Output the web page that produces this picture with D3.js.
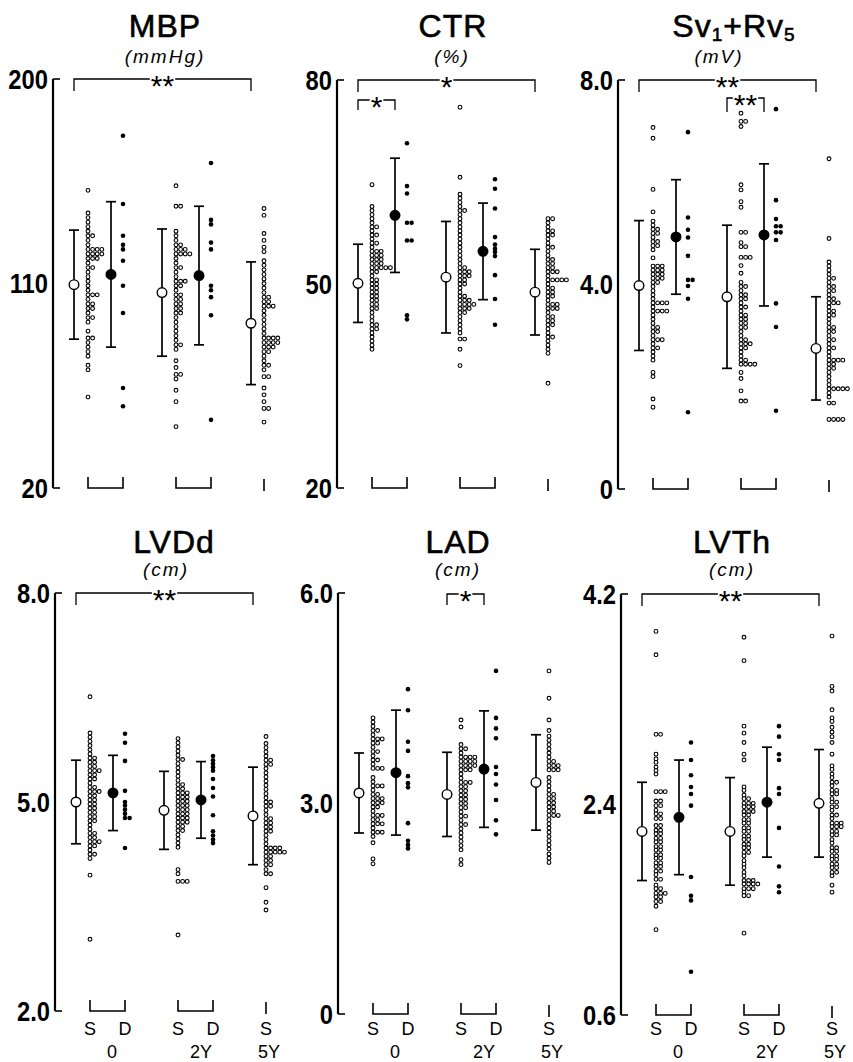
<!DOCTYPE html>
<html>
<head>
<meta charset="utf-8">
<script src="https://cdn.jsdelivr.net/npm/d3@7/dist/d3.min.js"></script>
<style>
  body { margin: 0; background: #fff; }
  svg text { font-family: "Liberation Sans", Arial, sans-serif; fill: #000; }
</style>
</head>
<body>
<svg id="chart" width="853" height="1062"></svg>
<script>
// ---- data: individual values per group (0 S, 0 D, 2Y S, 2Y D, 5Y S) ----
// MBP (mmHg)
var mbp0S = [151, 141, 139, 137, 135, 133, 131, 129, 127, 125, 123, 121, 119, 117, 115, 113, 111, 109, 107, 105, 103, 101, 99, 97, 95, 93,
  89, 86, 84, 82, 80, 78, 74, 72, 60,
  131, 125, 125, 125, 123, 123, 123, 121, 121, 117, 105, 105, 101, 99, 95, 86];
var mbp0D = [175, 145, 131, 127, 125, 120, 109, 97, 64, 56];
var mbp2S = [153, 144, 144, 133, 131, 129, 127, 125, 123, 121, 119, 117, 115, 113, 111, 109, 107, 105, 103, 101, 99, 97, 95, 93, 91, 89, 87, 85, 83, 81,
  76, 73, 70, 70, 68, 63, 58, 47,
  127, 125, 125, 123, 123, 123, 117, 111, 111, 109, 105, 103, 101, 99, 97, 83];
var mbp2D = [163, 138, 136, 128, 125, 109, 107, 104, 96, 50];
var mbp5S = [143, 140, 132, 129, 126, 124, 120, 118, 116, 114, 112, 110, 108, 106, 104, 102, 100, 98, 96, 94, 92, 90, 88, 86, 84, 82, 80, 78, 76, 74, 72,
  69, 69, 64, 61, 58, 55, 55, 49,
  104, 102, 100, 100, 86, 86, 86, 84, 84, 84, 82, 82, 80, 74];
var mbpMean = [109.5, 114, 106, 113.5, 92.5];
var mbpSD = [24, 32, 28, 30.5, 27];
var mbpTicks = [20, 110, 200];
var mbpTickLabels = ["20", "110", "200"];

// CTR (%)
var ctr0S = [64.6, 61.4, 60.8, 60.2, 59.6, 59.0, 58.4, 57.8, 57.2, 56.6, 56.0, 55.4, 54.8, 54.2, 53.6, 53.0, 52.4, 51.8, 51.2, 50.6, 50.0,
  49.4, 48.8, 48.2, 47.6, 47.0, 46.4, 45.8, 45.2, 44.6, 44.0, 43.4, 42.8, 42.2, 41.6, 41.0, 40.4,
  58.4, 57.2, 56.0, 54.8, 54.8, 54.2, 54.2, 53.6, 53.6, 53.0, 53.0, 52.4, 52.4, 52.4, 52.4, 51.8,
  50.6, 50.0, 49.4, 48.8, 48.2, 47.6, 47.0, 46.4, 44.0, 43.4];
var ctr0D = [70.7, 64.4, 63.3, 59.0, 59.0, 56.4, 56.4, 45.4, 44.8];
var ctr2S = [76.0, 65.7, 63.2, 62.6, 62.0, 61.4, 60.8, 60.2, 59.6, 59.0, 58.4, 57.8, 57.2, 56.6, 56.0, 55.4, 54.8, 54.2, 53.6, 53.0, 52.4,
  51.8, 51.2, 50.6, 50.0, 49.4, 48.8, 48.2, 47.6, 47.0, 46.4, 45.8, 45.2, 44.6, 44.0, 43.4, 42.8, 41.9, 41.9, 40.4, 38.0,
  60.8, 52.4, 51.8, 51.8, 51.2, 51.2, 50.6, 50.0, 48.2, 47.6, 47.6, 47.0, 47.0, 47.0, 46.4, 46.4, 45.8];
var ctr2D = [65.4, 64.0, 61.1, 56.9, 55.8, 55.2, 54.7, 54.1, 51.3, 47.8, 44.0];
var ctr5S = [59.6, 59.0, 58.4, 57.8, 57.2, 56.6, 56.0, 55.4, 54.8, 54.2, 53.6, 53.0, 52.4, 51.8, 51.2, 50.6, 50.0, 49.4, 48.8, 48.2,
  47.6, 47.0, 46.4, 45.8, 45.2, 44.6, 44.0, 43.4, 42.8, 42.2, 41.6, 41.0, 40.4, 39.8, 35.4,
  59.6, 57.8, 57.2, 55.4, 53.6, 53.0, 52.4, 51.8, 51.8, 50.6, 50.6, 50.6, 50.6, 49.4, 48.8, 48.2, 47.0, 47.0, 46.4, 46.4,
  45.2, 44.6, 44.0, 42.2];
var ctrMean = [50.1, 60.1, 51.0, 54.8, 48.8];
var ctrSD = [5.75, 8.4, 8.2, 7.1, 6.3];
var ctrTicks = [20, 50, 80];
var ctrTickLabels = ["20", "50", "80"];

// Sv1+Rv5 (mV)
var sv0S = [7.07, 6.86, 5.86, 5.42, 5.24, 5.16, 5.08, 5.00, 4.92, 4.84, 4.76, 4.68, 4.52,
  4.36, 4.28, 4.20, 4.12, 4.04, 3.96, 3.88, 3.80, 3.72, 3.64, 3.56, 3.48, 3.40, 3.32, 3.24, 3.16, 3.08, 3.00,
  2.92, 2.84, 2.76, 2.68, 2.60, 2.52, 2.28, 2.20, 1.76, 1.60,
  5.08, 5.00, 4.84, 4.76, 4.36, 4.36, 4.28, 4.28, 4.20, 4.20, 4.12, 4.12, 4.04, 3.64, 3.64, 3.64,
  3.48, 3.48, 3.48, 3.16, 3.08, 2.92, 2.92, 2.76];
var sv0D = [6.98, 5.31, 5.07, 4.92, 4.56, 4.09, 4.09, 3.97, 3.72, 1.50];
var sv2S = [7.35, 7.19, 7.19, 7.09, 5.95, 5.85, 5.62, 5.51, 5.02, 5.02, 4.82, 4.74, 4.74, 4.53, 4.53, 4.53, 4.37, 4.22,
  4.04, 3.96, 3.88, 3.80, 3.72, 3.64, 3.56, 3.48, 3.40, 3.32, 3.24, 3.16, 3.08, 3.00, 2.92, 2.84, 2.76, 2.68, 2.60, 2.52, 2.44,
  2.28, 2.16, 1.92, 1.72, 1.72,
  3.96, 3.80, 3.72, 3.56, 3.40, 3.32, 3.24, 3.16, 2.92, 2.84, 2.84, 2.76, 2.52, 2.44, 2.44, 2.44];
var sv2D = [7.43, 5.65, 5.28, 5.14, 5.14, 5.02, 5.02, 4.87, 3.63, 3.17, 1.53];
var sv5S = [6.46, 4.90, 4.44, 4.36, 4.28, 4.20, 4.12, 4.04, 3.96, 3.88, 3.80, 3.72, 3.64, 3.56, 3.48, 3.40, 3.32, 3.24,
  3.16, 3.08, 3.00, 2.92, 2.84, 2.76, 2.68, 2.60, 2.52, 2.44, 2.36, 2.28, 2.20, 2.12, 2.04, 1.96, 1.88, 1.80,
  1.68, 1.68, 1.36, 1.36, 1.36, 1.36,
  4.12, 3.96, 3.88, 3.72, 3.64, 3.64, 3.48, 3.40, 3.16, 3.08, 2.92, 2.76, 2.52, 2.52, 2.52, 2.44, 2.36,
  1.96, 1.96, 1.96, 1.96];
var svMean = [3.98, 4.93, 3.76, 4.97, 2.75];
var svSD = [1.27, 1.12, 1.4, 1.39, 1.01];
var svTicks = [0, 4, 8];
var svTickLabels = ["0", "4.0", "8.0"];

// LVDd (cm)
var lvdd0S = [6.51, 5.99, 5.93, 5.87, 5.81, 5.75, 5.69, 5.63, 5.57, 5.51, 5.45, 5.39, 5.33, 5.27, 5.21, 5.15, 5.09, 5.03,
  4.97, 4.91, 4.85, 4.79, 4.73, 4.67, 4.61, 4.55, 4.49, 4.43, 4.37, 4.31, 4.25, 4.19, 3.95, 3.03,
  5.63, 5.57, 5.51, 5.45, 5.45, 5.39, 5.33, 5.21, 5.15, 5.15, 5.09, 5.03, 4.97, 4.91, 4.85, 4.79, 4.73,
  4.55, 4.49, 4.43, 4.43, 4.37, 4.25];
var lvdd0D = [5.98, 5.85, 5.59, 5.16, 5.00, 4.95, 4.89, 4.83, 4.77, 4.77, 4.34];
var lvdd2S = [5.91, 5.85, 5.79, 5.73, 5.67, 5.61, 5.55, 5.49, 5.43, 5.37, 5.31, 5.25, 5.19, 5.13, 5.07, 5.01,
  4.95, 4.89, 4.83, 4.77, 4.71, 4.65, 4.59, 4.53, 4.47, 4.41, 4.35, 4.03, 3.97, 3.86, 3.86, 3.86, 3.09,
  5.61, 5.25, 5.19, 5.13, 5.13, 5.07, 5.07, 5.01, 5.01, 4.95, 4.95, 4.89, 4.89, 4.83, 4.83, 4.77, 4.77,
  4.71, 4.71, 4.65, 4.59];
var lvdd2D = [5.66, 5.60, 5.55, 5.50, 5.45, 5.33, 5.20, 5.08, 4.81, 4.58, 4.52, 4.46, 4.41];
var lvdd5S = [5.94, 5.84, 5.78, 5.72, 5.66, 5.60, 5.54, 5.48, 5.42, 5.36, 5.30, 5.24, 5.18, 5.12, 5.06, 5.00,
  4.94, 4.88, 4.82, 4.76, 4.70, 4.64, 4.58, 4.52, 4.46, 4.40, 4.34, 4.28, 4.22, 4.16, 4.10,
  4.03, 3.97, 3.97, 3.77, 3.56, 3.45,
  5.60, 5.54, 5.00, 4.94, 4.76, 4.70, 4.64, 4.58, 4.34, 4.34, 4.34, 4.28, 4.28, 4.28, 4.28, 4.22, 4.16, 4.10];
var lvddMean = [5.0, 5.13, 4.88, 5.03, 4.80];
var lvddSD = [0.6, 0.54, 0.56, 0.55, 0.70];
var lvddTicks = [2, 5, 8];
var lvddTickLabels = ["2.0", "5.0", "8.0"];

// LAD (cm)
var lad0S = [4.22, 4.16, 4.10, 4.04, 3.98, 3.92, 3.86, 3.80, 3.74, 3.68, 3.62, 3.56, 3.50,
  3.37, 3.31, 3.25, 3.19, 3.13, 3.07, 3.01, 2.95, 2.89, 2.83, 2.77, 2.71, 2.65, 2.59, 2.53, 2.44, 2.21, 2.14,
  4.04, 3.92, 3.92, 3.86, 3.74, 3.62, 3.50, 3.50, 3.25, 3.25, 3.13, 3.07, 3.07, 3.01, 3.01, 2.95,
  2.83, 2.83, 2.77, 2.71, 2.71, 2.59, 2.59];
var lad0D = [4.63, 4.33, 3.88, 3.75, 3.39, 3.29, 3.23, 2.72, 2.47, 2.41, 2.36];
var lad2S = [4.19, 4.09, 3.84, 3.78, 3.72, 3.66, 3.60, 3.54, 3.48, 3.42, 3.36, 3.30, 3.24, 3.18, 3.12, 3.06, 3.00,
  2.94, 2.88, 2.82, 2.76, 2.70, 2.64, 2.58, 2.52, 2.46, 2.40, 2.34, 2.20, 2.13,
  3.78, 3.66, 3.66, 3.66, 3.60, 3.60, 3.60, 3.54, 3.54, 3.54, 3.48, 3.48, 3.30, 3.30,
  3.24, 3.18, 3.12, 3.06, 3.00, 2.94, 2.82, 2.70];
var lad2D = [4.89, 4.22, 4.07, 3.93, 3.52, 3.42, 3.27, 3.05, 2.76, 2.56];
var lad5S = [4.89, 4.50, 4.19, 4.04, 3.96, 3.90, 3.84, 3.78, 3.72, 3.66, 3.60, 3.54, 3.48,
  3.37, 3.31, 3.25, 3.19, 3.13, 3.07, 3.01, 2.95, 2.89, 2.83, 2.77, 2.71, 2.65, 2.59, 2.53, 2.47, 2.41, 2.35,
  2.28, 2.22, 2.16,
  3.60, 3.54, 3.54, 3.48, 3.48, 3.13, 3.07, 3.01, 2.95, 2.89, 2.83, 2.83];
var ladMean = [3.15, 3.44, 3.13, 3.49, 3.30];
var ladSD = [0.57, 0.89, 0.60, 0.83, 0.68];
var ladTicks = [0, 3, 6];
var ladTickLabels = ["0", "3.0", "6.0"];

// LVTh (cm)
var lvth0S = [3.88, 3.68, 3.00, 3.00, 2.83, 2.79, 2.76, 2.72, 2.69, 2.66, 2.51, 2.51, 2.51,
  2.43, 2.43, 2.39, 2.39, 2.35, 2.32, 2.32, 2.28, 2.28, 2.22, 2.22, 2.18, 2.18, 2.15, 2.15, 2.11, 2.11,
  2.08, 2.08, 2.04, 2.04, 2.01, 2.01, 1.97, 1.97, 1.94, 1.94, 1.90, 1.90, 1.87, 1.87, 1.83, 1.83, 1.80,
  1.76, 1.76, 1.71, 1.68, 1.68, 1.64, 1.64, 1.64, 1.61, 1.61, 1.57, 1.57, 1.53, 1.33];
var lvth0D = [2.93, 2.78, 2.65, 2.55, 2.49, 2.39, 1.78, 1.62, 1.58, 0.97];
var lvth2S = [3.83, 3.63, 3.07, 3.01, 2.93, 2.83, 2.78,
  2.55, 2.52, 2.48, 2.45, 2.41, 2.38, 2.34, 2.31, 2.27, 2.24, 2.20, 2.17, 2.13, 2.10, 2.06, 2.03, 1.99,
  1.96, 1.92, 1.89, 1.86, 1.82, 1.79, 1.75, 1.72, 1.68, 1.65, 1.62, 1.30,
  2.45, 2.41, 2.41, 2.38, 2.38, 2.34, 2.34, 2.31, 2.27, 2.24, 2.20, 2.17, 2.13, 2.10, 2.06, 2.03, 1.99,
  1.75, 1.75, 1.72, 1.72, 1.72, 1.68, 1.68, 1.62];
var lvth2D = [3.07, 2.98, 2.83, 2.78, 2.54, 2.49, 2.20, 1.87, 1.70, 1.65];
var lvth5S = [3.84, 3.41, 3.37, 3.21, 3.14, 3.11, 3.06, 3.02, 2.98, 2.93, 2.83,
  2.73, 2.70, 2.66, 2.63, 2.59, 2.56, 2.52, 2.49, 2.45, 2.42, 2.38, 2.35, 2.31, 2.28, 2.24, 2.21, 2.17, 2.14,
  2.10, 2.07, 2.03, 2.00, 1.96, 1.93, 1.89, 1.86, 1.82, 1.79, 1.71, 1.65,
  2.59, 2.52, 2.49, 2.42, 2.38, 2.31, 2.24, 2.24, 2.21, 2.21, 2.17, 2.14, 2.03, 2.00, 1.96, 1.93, 1.89, 1.86, 1.82];
var lvthMean = [2.17, 2.29, 2.17, 2.42, 2.41];
var lvthSD = [0.42, 0.49, 0.46, 0.47, 0.46];
var lvthTicks = [0.6, 2.4, 4.2];
var lvthTickLabels = ["0.6", "2.4", "4.2"];

var groupFilled = [false, true, false, true, false];
var subLabels = ["S", "D", "S", "D", "S"];
var timeLabels = ["0", "2Y", "5Y"];

// ---- layout ----
var meanOff = [21, 58, 109, 146, 198],
    dotOff = [35, 70, 123, 158, 211],
    timeOff = [57, 146, 214],
    dotStep = 4.6;

var panels = [
  { title: "MBP", unit: "(mmHg)", ax: 53, top: 79, bottom: 488, domain: [20, 200], ticks: mbpTicks, labels: mbpTickLabels,
    groups: [mbp0S, mbp0D, mbp2S, mbp2D, mbp5S], mean: mbpMean, sd: mbpSD, tx: 165, ux: 165, row: 0,
    sig: [{ a: 0, b: 4, dy: 0, drop: 12, text: "**" }] },
  { title: "CTR", unit: "(%)", ax: 337, top: 80, bottom: 488, domain: [20, 80], ticks: ctrTicks, labels: ctrTickLabels,
    groups: [ctr0S, ctr0D, ctr2S, ctr2D, ctr5S], mean: ctrMean, sd: ctrSD, tx: 453, ux: 452, row: 0,
    sig: [{ a: 0, b: 4, dy: 0, drop: 12, text: "*" }, { a: 0, b: 1, dy: 20, drop: 10, text: "*" }] },
  { title: "Sv", unit: "(mV)", ax: 618, top: 80, bottom: 489, domain: [0, 8], ticks: svTicks, labels: svTickLabels,
    groups: [sv0S, sv0D, sv2S, sv2D, sv5S], mean: svMean, sd: svSD, tx: 734, ux: 719, row: 0,
    sig: [{ a: 0, b: 4, dy: 0, drop: 12, text: "**" }, { a: 2, b: 3, dy: 18, drop: 14, text: "**" }] },
  { title: "LVDd", unit: "(cm)", ax: 55, top: 593, bottom: 1011, domain: [2, 8], ticks: lvddTicks, labels: lvddTickLabels,
    groups: [lvdd0S, lvdd0D, lvdd2S, lvdd2D, lvdd5S], mean: lvddMean, sd: lvddSD, tx: 174, ux: 166, row: 1,
    sig: [{ a: 0, b: 4, dy: 0, drop: 12, text: "**" }] },
  { title: "LAD", unit: "(cm)", ax: 338, top: 593, bottom: 1014, domain: [0, 6], ticks: ladTicks, labels: ladTickLabels,
    groups: [lad0S, lad0D, lad2S, lad2D, lad5S], mean: ladMean, sd: ladSD, tx: 458, ux: 458, row: 1,
    sig: [{ a: 2, b: 3, dy: 1, drop: 11, text: "*" }] },
  { title: "LVTh", unit: "(cm)", ax: 621, top: 594, bottom: 1015, domain: [0.6, 4.2], ticks: lvthTicks, labels: lvthTickLabels,
    groups: [lvth0S, lvth0D, lvth2S, lvth2D, lvth5S], mean: lvthMean, sd: lvthSD, tx: 732, ux: 732, row: 1,
    sig: [{ a: 0, b: 4, dy: 0, drop: 12, text: "**" }] }
];

var rowText = [{ title: 37, unit: 63 }, { title: 553, unit: 576 }];

var svg = d3.select("#chart");

panels.forEach(function(p) {
  var g = svg.append("g");
  var y = d3.scaleLinear().domain(p.domain).range([p.bottom, p.top]);
  var ax = p.ax;

  // title + unit
  var t = g.append("text")
    .attr("x", p.tx).attr("y", rowText[p.row].title)
    .attr("text-anchor", "middle")
    .attr("stroke", "#000").attr("stroke-width", 0.6)
    .style("font-size", "32px")
    .style("letter-spacing", "1px");
  if (p.title === "Sv") {
    t.append("tspan").text("Sv");
    t.append("tspan").attr("dy", 4).style("font-size", "19px").text("1");
    t.append("tspan").attr("dy", -4).text("+Rv");
    t.append("tspan").attr("dy", 4).style("font-size", "19px").text("5");
  } else {
    t.text(p.title);
  }
  g.append("text")
    .attr("x", p.ux).attr("y", rowText[p.row].unit)
    .attr("text-anchor", "middle")
    .style("font-size", "19px")
    .style("font-style", "italic")
    .style("letter-spacing", "2px")
    .text(p.unit);

  // y axis: spine, end ticks, labels
  g.append("line")
    .attr("x1", ax).attr("x2", ax)
    .attr("y1", y(p.domain[1])).attr("y2", y(p.domain[0]))
    .attr("stroke", "#000").attr("stroke-width", 2.2);
  [p.domain[0], p.domain[1]].forEach(function(v) {
    g.append("line")
      .attr("x1", ax).attr("x2", ax + 7)
      .attr("y1", y(v)).attr("y2", y(v))
      .attr("stroke", "#000").attr("stroke-width", 1.6);
  });
  p.ticks.forEach(function(v, i) {
    g.append("text")
      .attr("transform", "translate(" + (ax - 5) + "," + (y(v) + 9.5) + ") scale(0.88,1)")
      .attr("text-anchor", "end")
      .style("font-weight", "bold")
      .style("font-size", "27px")
      .text(p.labels[i]);
  });

  // group markers along the bottom
  [[0, 1], [2, 3]].forEach(function(pair) {
    var x1 = ax + dotOff[pair[0]], x2 = ax + dotOff[pair[1]], yb = p.bottom;
    g.append("path")
      .attr("d", "M" + x1 + "," + (yb - 11) + "V" + yb + "H" + x2 + "V" + (yb - 11))
      .attr("fill", "none").attr("stroke", "#000").attr("stroke-width", 1.6);
  });
  g.append("line")
    .attr("x1", ax + dotOff[4]).attr("x2", ax + dotOff[4])
    .attr("y1", p.bottom - 9).attr("y2", p.bottom + 3)
    .attr("stroke", "#000").attr("stroke-width", 1.6);

  if (p.row === 1) {
    subLabels.forEach(function(s, i) {
      g.append("text")
        .attr("x", ax + dotOff[i]).attr("y", 1035)
        .attr("text-anchor", "middle").style("font-size", "18px").text(s);
    });
    timeLabels.forEach(function(s, i) {
      g.append("text")
        .attr("x", ax + timeOff[i]).attr("y", 1058)
        .attr("text-anchor", "middle").style("font-size", "18px").text(s);
    });
  }

  // significance brackets
  p.sig.forEach(function(s) {
    var x1 = ax + meanOff[s.a], x2 = ax + meanOff[s.b];
    var yl = p.top + s.dy, xm = (x1 + x2) / 2;
    var lab = g.append("text")
      .attr("x", xm).attr("y", yl + 17)
      .attr("text-anchor", "middle")
      .style("font-size", "30px")
      .text(s.text);
    var w = lab.node().getComputedTextLength() / 2 + 1;
    g.append("path")
      .attr("d", "M" + x1 + "," + (yl + s.drop) + "V" + yl + "H" + (xm - w) +
                 "M" + (xm + w) + "," + yl + "H" + x2 + "V" + (yl + s.drop))
      .attr("fill", "none").attr("stroke", "#000").attr("stroke-width", 1.3);
  });

  // individual dots: equal values sit side by side
  p.groups.forEach(function(vals, gi) {
    var seen = new Map();
    var pts = vals.map(function(v) {
      var k = seen.get(v) || 0;
      seen.set(v, k + 1);
      return { v: v, k: k };
    });
    g.selectAll(null)
      .data(pts)
      .enter().append("circle")
      .attr("cx", function(d) { return ax + dotOff[gi] + d.k * dotStep; })
      .attr("cy", function(d) { return y(d.v); })
      .attr("r", groupFilled[gi] ? 2.3 : 1.9)
      .attr("fill", groupFilled[gi] ? "#000" : "#fff")
      .attr("stroke", "#000")
      .attr("stroke-width", groupFilled[gi] ? 0 : 1.1);
  });

  // mean +/- SD
  p.mean.forEach(function(m, gi) {
    var x = ax + meanOff[gi], sd = p.sd[gi];
    g.append("line")
      .attr("x1", x).attr("x2", x)
      .attr("y1", y(m + sd)).attr("y2", y(m - sd))
      .attr("stroke", "#000").attr("stroke-width", 1.7);
    [m + sd, m - sd].forEach(function(v) {
      g.append("line")
        .attr("x1", x - 5).attr("x2", x + 5)
        .attr("y1", y(v)).attr("y2", y(v))
        .attr("stroke", "#000").attr("stroke-width", 1.7);
    });
    g.append("circle")
      .attr("cx", x).attr("cy", y(m))
      .attr("r", 4.8)
      .attr("fill", groupFilled[gi] ? "#000" : "#fff")
      .attr("stroke", "#000").attr("stroke-width", 1.4);
  });
});
</script>
</body>
</html>
